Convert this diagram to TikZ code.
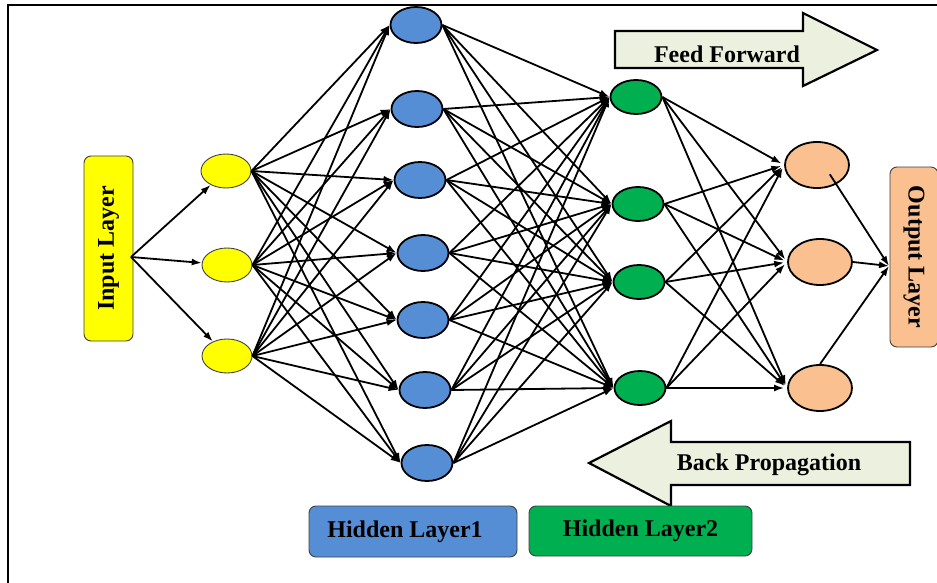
\documentclass[tikz,border=0pt]{standalone}
\usepackage{fontspec}
\setmainfont{Liberation Serif}
\usetikzlibrary{arrows.meta,calc,shapes.geometric}
\definecolor{hblue}{HTML}{558ED5}
\definecolor{hgreen}{HTML}{00B050}
\definecolor{peach}{HTML}{FAC090}
\definecolor{pale}{HTML}{EBF1DE}
\definecolor{yel}{HTML}{FFFF00}
\definecolor{edgegray}{HTML}{404040}
\begin{document}
\begin{tikzpicture}[x=1pt,y=-1pt,
  lbl/.style={font=\fontsize{24}{28}\selectfont\bfseries, text=black},
  neuron/.style={ellipse, draw=black, line width=1.8pt, inner sep=0pt},
  yneuron/.style={ellipse, draw=edgegray, line width=0.9pt, inner sep=0pt, fill=yel, minimum width=50pt, minimum height=34pt},
  bneuron/.style={neuron, fill=hblue, minimum width=51pt, minimum height=36pt},
  gneuron/.style={neuron, fill=hgreen, minimum width=51pt, minimum height=34pt},
  pneuron/.style={neuron, fill=peach, minimum width=64pt, minimum height=46pt},
  layerbox/.style={lbl, draw=edgegray, line width=0.9pt, rounded corners=7pt, inner sep=0pt},
  conn/.style={line width=1.8pt, -{Latex[length=10pt,width=7pt]}},
  bigarrow/.style={draw=black, line width=2.2pt, fill=pale, line join=miter}
]
\useasboundingbox (0,0) rectangle (937,583);
% frame
\draw[line width=2.2pt] (8,583) -- (8,5) -- (937,5);

% big arrows
\draw[bigarrow] (615,31) -- (803,31) -- (803,13) -- (877,50) -- (803,86) -- (803,68) -- (615,68) -- cycle;
\node[lbl] (ff) at (727,54) {Feed Forward};
\draw[bigarrow] (589,463) -- (671,421) -- (671,442) -- (910,442) -- (910,485) -- (671,485) -- (671,506) -- cycle;
\node[lbl] (bp) at (769,465) {Back Propagation};

% layer boxes
\node[layerbox, fill=yel, rotate=90, minimum width=185pt, minimum height=49pt] (inb) at (108.5,248.5) {Input Layer};
\node[layerbox, fill=peach, rotate=-90, minimum width=180pt, minimum height=48pt] (outb) at (914,257) {Output Layer};
\node[layerbox, fill=hblue, minimum width=208pt, minimum height=51pt] (h1b) at (413,531.5) {Hidden Layer1\hspace*{16pt}};
\node[layerbox, fill=hgreen, minimum width=223pt, minimum height=50pt] (h2b) at (640.5,531) {Hidden Layer2};

% neurons
\foreach \i/\x/\y in {1/226/171, 2/227/265, 3/227/356}
  \node[yneuron] (y\i) at (\x,\y) {};
\foreach \i/\x/\y in {1/416/25, 2/417/109, 3/420/180, 4/423/253, 5/423/320, 6/425/390, 7/427/463}
  \node[bneuron] (b\i) at (\x,\y) {};
\foreach \i/\x/\y in {1/636/97, 2/638/204, 3/639/282, 4/640/388}
  \node[gneuron] (g\i) at (\x,\y) {};
\foreach \i/\x/\y in {1/817/165, 2/820/262, 3/820/388}
  \node[pneuron] (p\i) at (\x,\y) {};

% connections
\coordinate (src) at (131,257);
\foreach \i in {1,2,3}
  \draw[conn] (src) -- (y\i);
\foreach \i in {1,2,3}
  \foreach \j in {1,...,7}
    \draw[conn] (y\i.east) -- (b\j.west);
\foreach \i in {1,...,7}
  \foreach \j in {1,...,4}
    \draw[conn] (b\i.east) -- (g\j.west);
\foreach \i in {1,...,4}
  \foreach \j in {1,2,3}
    \draw[conn, shorten >=3pt] (g\i.east) -- (p\j.west);
\coordinate (oin) at (889,266);
\draw[conn] ($(p1.center)!0.55!(p1.south east)$) -- (oin);
\draw[conn] (p2.east) -- (oin);
\draw[conn] (p3.north) -- (oin);
\end{tikzpicture}
\end{document}
